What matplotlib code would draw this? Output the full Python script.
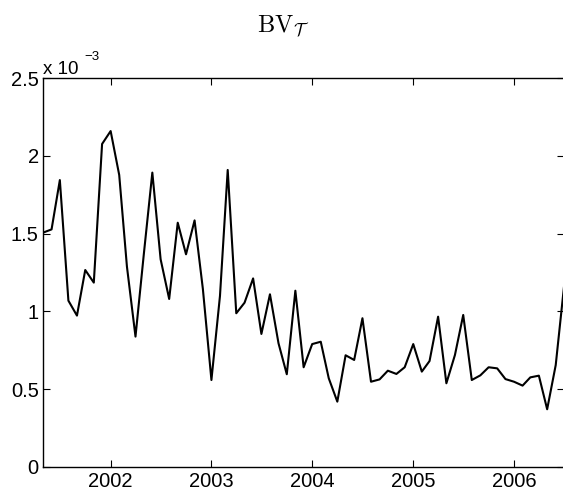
import matplotlib
matplotlib.use("Agg")
import matplotlib.pyplot as plt
import matplotlib.dates as mdates
from matplotlib.ticker import FuncFormatter, FixedLocator
import pandas as pd

# monthly BV values, in units of 1e-3, May 2001 .. Jul 2006
bv_2001 = [1.506, 1.527, 1.844, 1.069, 0.973, 1.266, 1.185, 2.076]
bv_2002 = [2.159, 1.877, 1.288, 0.838, 1.365, 1.892, 1.335, 1.080, 1.570, 1.367, 1.585, 1.145]
bv_2003 = [0.559, 1.100, 1.909, 0.988, 1.056, 1.212, 0.855, 1.110, 0.795, 0.596, 1.133, 0.641]
bv_2004 = [0.790, 0.805, 0.570, 0.420, 0.718, 0.688, 0.956, 0.548, 0.563, 0.619, 0.598, 0.641]
bv_2005 = [0.790, 0.613, 0.681, 0.966, 0.538, 0.720, 0.977, 0.559, 0.589, 0.641, 0.634, 0.565]
bv_2006 = [0.548, 0.523, 0.576, 0.587, 0.371, 0.655, 1.159]

bv = bv_2001 + bv_2002 + bv_2003 + bv_2004 + bv_2005 + bv_2006
dates = pd.date_range("2001-05-01", periods=len(bv), freq="MS")
values = [v * 1e-3 for v in bv]

year_ticks = [pd.Timestamp(f"{y}-01-01") for y in range(2002, 2007)]
y_ticks = [0, 0.5e-3, 1e-3, 1.5e-3, 2e-3, 2.5e-3]

plt.rcParams["font.family"] = ["Liberation Sans", "DejaVu Sans"]
plt.rcParams["mathtext.fontset"] = "cm"

fig = plt.figure(figsize=(5.63, 4.96), dpi=100)
ax = fig.add_axes([43 / 563, 29 / 496, 521 / 563, 389 / 496])

ax.plot(dates, values, color="black", lw=1.5)

ax.set_xlim(dates[0], dates[-1])
ax.set_ylim(0, 2.5e-3)
ax.xaxis.set_major_locator(FixedLocator(mdates.date2num(year_ticks)))
ax.xaxis.set_major_formatter(mdates.DateFormatter("%Y"))
ax.yaxis.set_major_locator(FixedLocator(y_ticks))
ax.yaxis.set_major_formatter(FuncFormatter(lambda v, p: f"{v * 1e3:g}"))

ax.tick_params(direction="in", length=5, width=0.8, labelsize=14.5,
               top=True, right=True)
ax.tick_params(axis="x", pad=3.5)
ax.tick_params(axis="y", pad=3)
for s in ax.spines.values():
    s.set_linewidth(1.0)

# MATLAB-style exponent label
fig.text(43 / 563, 1 - 73.5 / 496, "x 10", fontsize=13.5, va="baseline", ha="left")
fig.text(84 / 563, 1 - 60 / 496, "\u22123", fontsize=9.5, va="baseline", ha="left")

fig.text(283 / 563, 1 - 32 / 496, r"$\mathrm{BV}_{\mathcal{T}}$", fontsize=17.5,
         ha="center", va="baseline")

fig.savefig("out.png", dpi=100, facecolor="white")
